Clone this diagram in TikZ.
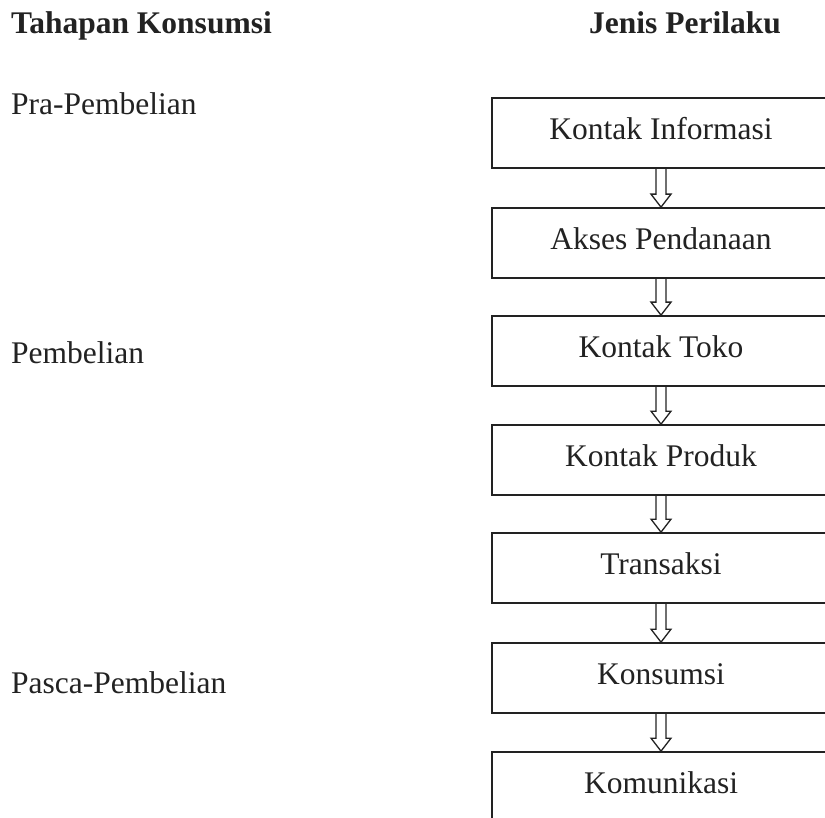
\documentclass[tikz,border=0pt]{standalone}
\usepackage{fontspec}
\setmainfont{Liberation Serif}
\usetikzlibrary{calc}
\definecolor{ink}{HTML}{222222}
\tikzset{
  boxnode/.style={draw=ink, line width=1.7pt, minimum width=338pt, minimum height=70pt,
    inner sep=0pt, text height=20pt, text depth=7pt, text=ink, font=\fontsize{31.5}{36}\selectfont},
  label/.style={anchor=base west, inner sep=0pt, text=ink, font=\fontsize{31.5}{36}\selectfont},
  head/.style={anchor=base, inner sep=0pt, text=ink, font=\fontsize{31.5}{36}\selectfont\bfseries},
  hollowarrow/.style={draw=ink, line width=1.3pt, line join=miter,
    to path={let \p1=(\tikztostart), \p2=(\tikztotarget) in
      (\x1-5pt,\y1) -- (\x1-5pt,\y2+13pt) -- (\x1-10pt,\y2+13pt) -- (\x1,\y2)
      -- (\x1+10pt,\y2+13pt) -- (\x1+5pt,\y2+13pt) -- (\x1+5pt,\y1)}}
}
\begin{document}
\begin{tikzpicture}[x=1pt,y=-1pt]
\useasboundingbox (0,0) rectangle (825,818);
\fill[white] (0,0) rectangle (825,818);
\node[head, anchor=base west] (h1) at (11,34) {Tahapan Konsumsi};
\node[head] (h2) at (685,34) {Jenis Perilaku};
\node[label] (l1) at (11,115) {Pra-Pembelian};
\node[label] (l2) at (11,363) {Pembelian};
\node[label] (l3) at (11,693) {Pasca-Pembelian};
\node[boxnode] (k1) at (661,133) {Kontak Informasi};
\node[boxnode] (k2) at (661,243) {Akses Pendanaan};
\node[boxnode] (k3) at (661,351) {Kontak Toko};
\node[boxnode] (k4) at (661,460) {Kontak Produk};
\node[boxnode] (k5) at (661,568) {Transaksi};
\node[boxnode] (k6) at (661,678) {Konsumsi};
\node[boxnode] (k7) at (661,787) {Komunikasi};
\draw[hollowarrow] (k1.south) to (k2.north);
\draw[hollowarrow] (k2.south) to (k3.north);
\draw[hollowarrow] (k3.south) to (k4.north);
\draw[hollowarrow] (k4.south) to (k5.north);
\draw[hollowarrow] (k5.south) to (k6.north);
\draw[hollowarrow] (k6.south) to (k7.north);
\end{tikzpicture}
\end{document}
